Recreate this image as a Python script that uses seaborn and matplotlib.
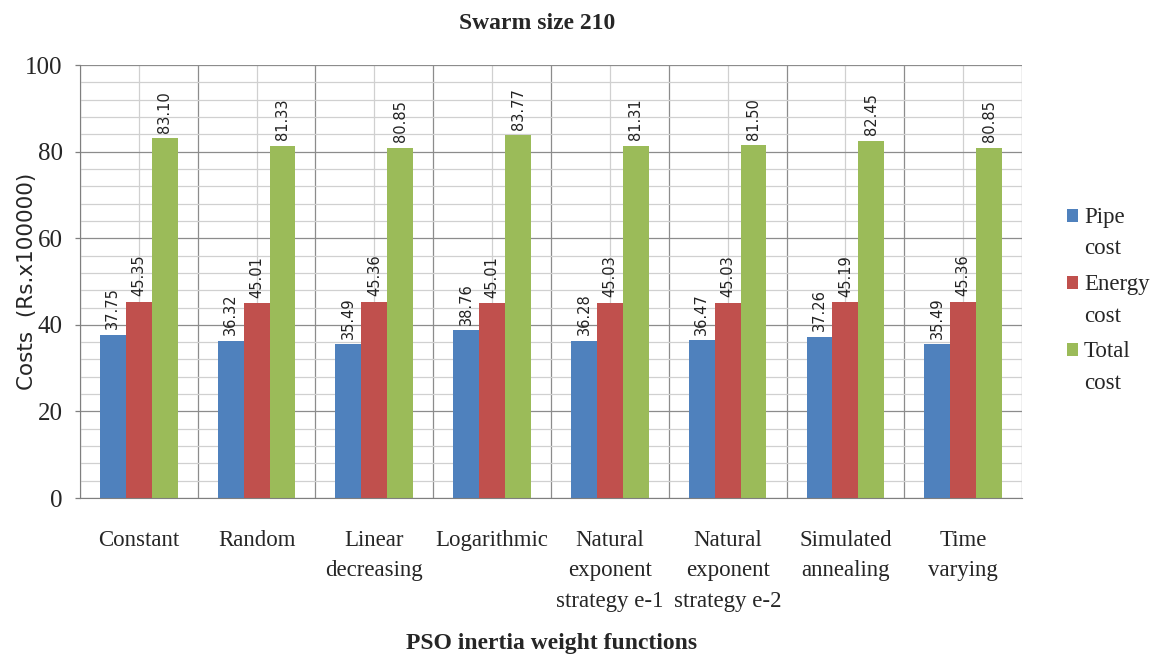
import matplotlib
matplotlib.use("Agg")
import matplotlib.pyplot as plt
import pandas as pd
import seaborn as sns
from matplotlib.legend_handler import HandlerPatch
from matplotlib.patches import Rectangle
from matplotlib.ticker import MultipleLocator

categories = [
    "Constant",
    "Random",
    "Linear\ndecreasing",
    "Logarithmic",
    "Natural\nexponent\nstrategy e-1",
    "Natural\nexponent\nstrategy e-2",
    "Simulated\nannealing",
    "Time\nvarying",
]
series = ["Pipe\ncost", "Energy\ncost", "Total\ncost"]
pipe_cost = [37.75, 36.32, 35.49, 38.76, 36.28, 36.47, 37.26, 35.49]
energy_cost = [45.35, 45.01, 45.36, 45.01, 45.03, 45.03, 45.19, 45.36]
total_cost = [83.10, 81.33, 80.85, 83.77, 81.31, 81.50, 82.45, 80.85]
colors = ["#4F81BD", "#C0504D", "#9BBB59"]

df = pd.DataFrame({
    "function": categories * 3,
    "series": [series[0]] * 8 + [series[1]] * 8 + [series[2]] * 8,
    "cost": pipe_cost + energy_cost + total_cost,
})

sns.set_style("white")
serif = ["Liberation Serif", "DejaVu Serif"]


def _top_square(legend, orig_handle, xdescent, ydescent, width, height, fontsize):
    # put the legend square next to the first line of a two-line label
    return Rectangle((-xdescent, -ydescent + 0.76 * fontsize), width, height)


fig = plt.figure(figsize=(11.58, 6.57), dpi=100)
ax = fig.add_axes([0.069, 0.242, 0.8136, 0.659])

sns.barplot(data=df, x="function", y="cost", hue="series", order=categories,
            hue_order=series, palette=colors, width=0.66, saturation=1,
            edgecolor="none", linewidth=0, ax=ax)

for cont in ax.containers:
    ax.bar_label(cont, fmt="%.2f", rotation=90, padding=4, fontsize=10.5,
                 family="DejaVu Sans", color="#222222")

ax.set_ylim(0, 100)
ax.set_xlim(-0.5, len(categories) - 0.5)
ax.yaxis.set_major_locator(MultipleLocator(20))
ax.yaxis.set_minor_locator(MultipleLocator(4))
ax.set_xticks(range(len(categories)))
ax.set_xticks([i - 0.5 for i in range(len(categories) + 1)], minor=True)

ax.set_axisbelow(True)
ax.yaxis.grid(True, which="major", color="#8c8c8c", linewidth=0.9)
ax.yaxis.grid(True, which="minor", color="#d0d0d0", linewidth=0.9)
ax.xaxis.grid(True, which="minor", color="#8c8c8c", linewidth=0.9)
ax.xaxis.grid(True, which="major", color="#d0d0d0", linewidth=0.9)

for s in ["top", "right"]:
    ax.spines[s].set_visible(False)
ax.spines["left"].set_color("#7f7f7f")
ax.spines["bottom"].set_color("#7f7f7f")

ax.tick_params(axis="y", which="major", length=3.5, width=0.9, color="#7f7f7f",
               direction="out", left=True, labelsize=18, pad=9)
ax.tick_params(axis="y", which="minor", length=0)
ax.tick_params(axis="x", which="both", length=0, labelsize=16.5, pad=23)
for lab in ax.get_yticklabels():
    lab.set_family(serif)
ax.set_xticklabels(categories, family=serif, linespacing=1.58, va="top")

ax.set_xlabel("PSO inertia weight functions", family=serif, fontsize=17,
              fontweight="bold")
ax.xaxis.set_label_coords(0.501, -0.312)
ax.set_ylabel("Costs  (Rs.x100000)", family="DejaVu Sans", fontsize=15.5)
ax.yaxis.set_label_coords(-0.046, 0.5)
ax.set_title("Swarm size 210", family=serif, fontsize=17, fontweight="bold",
             pad=26, x=0.485)

leg = ax.legend(loc="center left", bbox_to_anchor=(1.026, 0.457), frameon=False,
                handlelength=0.48, handleheight=0.48, handletextpad=0.25,
                labelspacing=0.62, prop={"family": serif, "size": 16.5},
                handler_map={Rectangle: HandlerPatch(patch_func=_top_square)})
for t in leg.get_texts():
    t.set_linespacing(1.68)

fig.savefig("out.png", dpi=100)
